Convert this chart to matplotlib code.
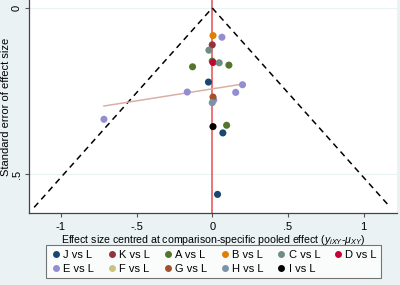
import matplotlib
matplotlib.use("Agg")
import matplotlib.pyplot as plt
import numpy as np
from matplotlib.lines import Line2D

plt.rcParams['font.family'] = ['Liberation Sans', 'DejaVu Sans']
plt.rcParams['mathtext.fontset'] = 'custom'
plt.rcParams['mathtext.it'] = 'Liberation Sans:italic'
plt.rcParams['mathtext.rm'] = 'Liberation Sans'

# Comparisons and their colours
comparisons = ["J vs L", "K vs L", "A vs L", "B vs L", "C vs L", "D vs L",
               "E vs L", "F vs L", "G vs L", "H vs L", "I vs L"]
colors = ["#1A476F", "#90353B", "#55752F", "#E37E00", "#6E8E84", "#C10534",
          "#938DD2", "#CAC27E", "#A0522D", "#7B92A8", "#000000"]

# Studies: comparison index, centred effect, standard error
study_comp = [3, 6, 1, 4, 2, 2, 5, 4, 2, 0, 6, 6, 6, 6, 8, 9, 10, 2, 0, 6, 0]
study_eff = [0.005, 0.064, 0.0, -0.022, -0.13, 0.0, 0.005, 0.046, 0.11, -0.025,
             0.2, -0.165, 0.155, 0.01, 0.005, 0.0, 0.005, 0.095, 0.07, -0.715, 0.035]
study_se = [0.083, 0.088, 0.111, 0.127, 0.177, 0.160, 0.164, 0.165, 0.172, 0.223,
            0.231, 0.253, 0.254, 0.277, 0.268, 0.285, 0.357, 0.353, 0.376, 0.335, 0.561]

# Fitted line
reg_x = [-0.715, 0.2]
reg_y = [0.295, 0.229]

# Funnel limits
se_max = 0.6
z = 1.96

fig = plt.figure(figsize=(4, 2.85), dpi=100, facecolor="#EAF2F3")
ax = fig.add_axes([29/400, 1 - 213/285, 368/400, 213/285])
ax.set_facecolor("white")

ax.axhline(0, color="#EAF2F3", lw=0.8, zorder=0)
ax.axhline(0.5, color="#EAF2F3", lw=0.8, zorder=0)

ax.axvline(0, color="#E8696B", lw=1.3, zorder=1)
ax.plot([-z * se_max, 0, z * se_max], [se_max, 0, se_max], color="black",
        ls=(0, (4, 3)), lw=1.1, zorder=2)
ax.plot(reg_x, reg_y, color="#D9AFA8", lw=1.1, zorder=2)

for c, e, s in zip(study_comp, study_eff, study_se):
    ax.scatter(e, s, s=26, color=colors[c], edgecolors="none", zorder=3)

ax.set_xlim(-1.21, 1.22)
ax.set_ylim(0.617, -0.024)
ax.set_xticks([-1, -0.5, 0, 0.5, 1])
ax.set_xticklabels(["-1", "-.5", "0", ".5", "1"])
ax.set_yticks([0, 0.5])
ax.set_yticklabels(["0", ".5"], rotation=90, va="center")
ax.tick_params(labelsize=8, length=3, color="#555555", width=0.8)
ax.tick_params(axis="y", pad=2)
for sp in ["top", "right"]:
    ax.spines[sp].set_visible(False)
for sp in ["left", "bottom"]:
    ax.spines[sp].set_color("#444444")
    ax.spines[sp].set_linewidth(0.9)

ax.set_ylabel("Standard error of effect size", fontsize=8, labelpad=1)
ax.set_xlabel(r"Effect size centred at comparison-specific pooled effect ($y_{iXY}$-$\mu_{XY}$)",
              fontsize=7.6, labelpad=1)

# matplotlib fills legend column-wise; reorder so rows read J..D then E..I
order = [0, 6, 1, 7, 2, 8, 3, 9, 4, 10, 5]
handles = [Line2D([0], [0], marker="o", color="none", markerfacecolor=colors[i],
                  markeredgecolor="none", markersize=5) for i in order]
labels = [comparisons[i] for i in order]
leg = fig.legend(handles, labels, loc="lower center", bbox_to_anchor=(0.534, 0.005),
                 ncol=6, fontsize=8, frameon=True, fancybox=False,
                 handletextpad=0.15, columnspacing=1.1, borderpad=0.4,
                 labelspacing=0.35, handlelength=1.0)
leg.get_frame().set_edgecolor("#555555")
leg.get_frame().set_linewidth(0.8)

fig.savefig("out.png", dpi=100, facecolor=fig.get_facecolor())
